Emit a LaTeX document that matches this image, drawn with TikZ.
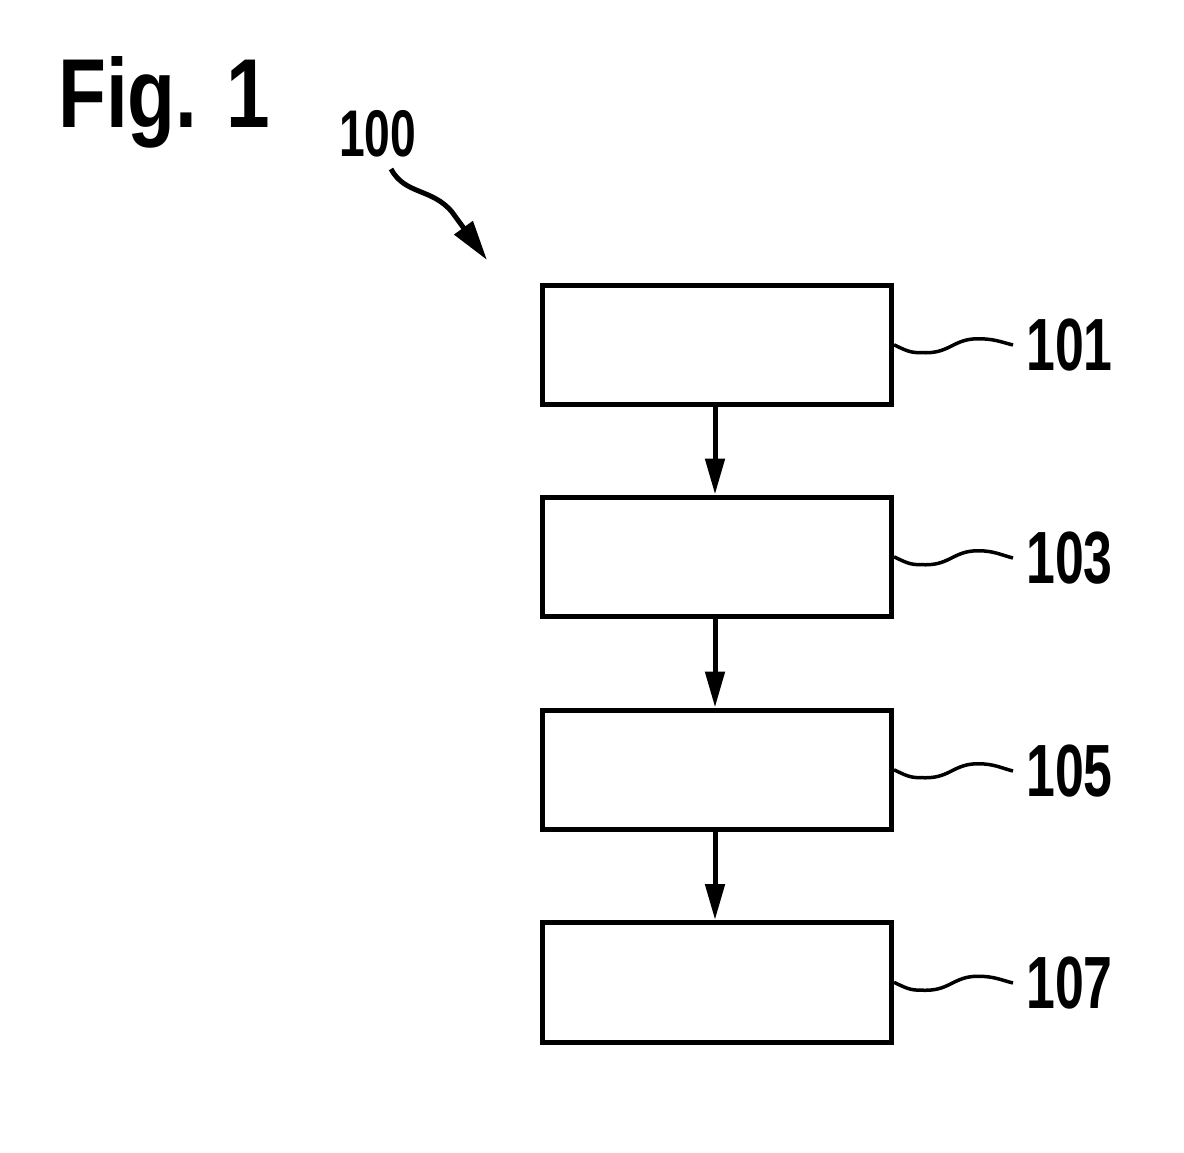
\documentclass[tikz,border=0pt]{standalone}
\usepackage{fontspec}
\newfontfamily\numfont[FakeStretch=0.70]{Liberation Sans Bold}
\newfontfamily\figfont[FakeStretch=0.80]{Liberation Sans Bold}
\usetikzlibrary{arrows.meta}
\begin{document}
\begin{tikzpicture}[x=1pt,y=-1pt,
  stepbox/.style={draw,line width=5pt,minimum width=349pt,minimum height=119.5pt,inner sep=0pt},
  flow/.style={line width=5pt,-{Triangle[length=36pt,width=19pt]}},
  leader/.style={line width=3.5pt},
  reflabel/.style={font=\numfont\fontsize{74}{74}\selectfont,inner xsep=13pt,inner ysep=0pt,anchor=west}]
\useasboundingbox (0,0) rectangle (1184,1153);
\node[font=\figfont\fontsize{98}{98}\selectfont,anchor=base west,inner sep=0pt] (fig) at (58,128) {Fig. 1};
\node[stepbox] (b1) at (717,344.75) {};
\node[stepbox] (b2) at (717,556.75) {};
\node[stepbox] (b3) at (717,769.75) {};
\node[stepbox] (b4) at (717,982.25) {};
\draw[flow] (b1.south -| 715,0) -- (b2.north -| 715,0);
\draw[flow] (b2.south -| 715,0) -- (b3.north -| 715,0);
\draw[flow] (b3.south -| 715,0) -- (b4.north -| 715,0);
\node[reflabel] (l1) at (1013,345) {101};
\node[reflabel] (l2) at (1013,558) {103};
\node[reflabel] (l3) at (1013,771) {105};
\node[reflabel] (l4) at (1013,983) {107};
\foreach \b/\l in {b1/l1,b2/l2,b3/l3,b4/l4}{
  \draw[leader] (\b.east) .. controls +(16,8) and +(-14,0) .. ++(32,8)
     .. controls +(24,0) and +(-24,0) .. ++(52,-14)
     .. controls +(16,0) and +(-12,-3) .. (\l.west);
}
\node[font=\numfont\fontsize{66}{66}\selectfont,anchor=base west,inner sep=0pt] (n100) at (339,157) {100};
\coordinate (s100) at (391,169);
\coordinate (t100) at (487,260);
\draw[line width=5pt,-{Triangle[length=40pt,width=22pt]}] (s100) .. controls (405,195) and (432,188) .. (452,212) -- (t100);
\end{tikzpicture}
\end{document}
